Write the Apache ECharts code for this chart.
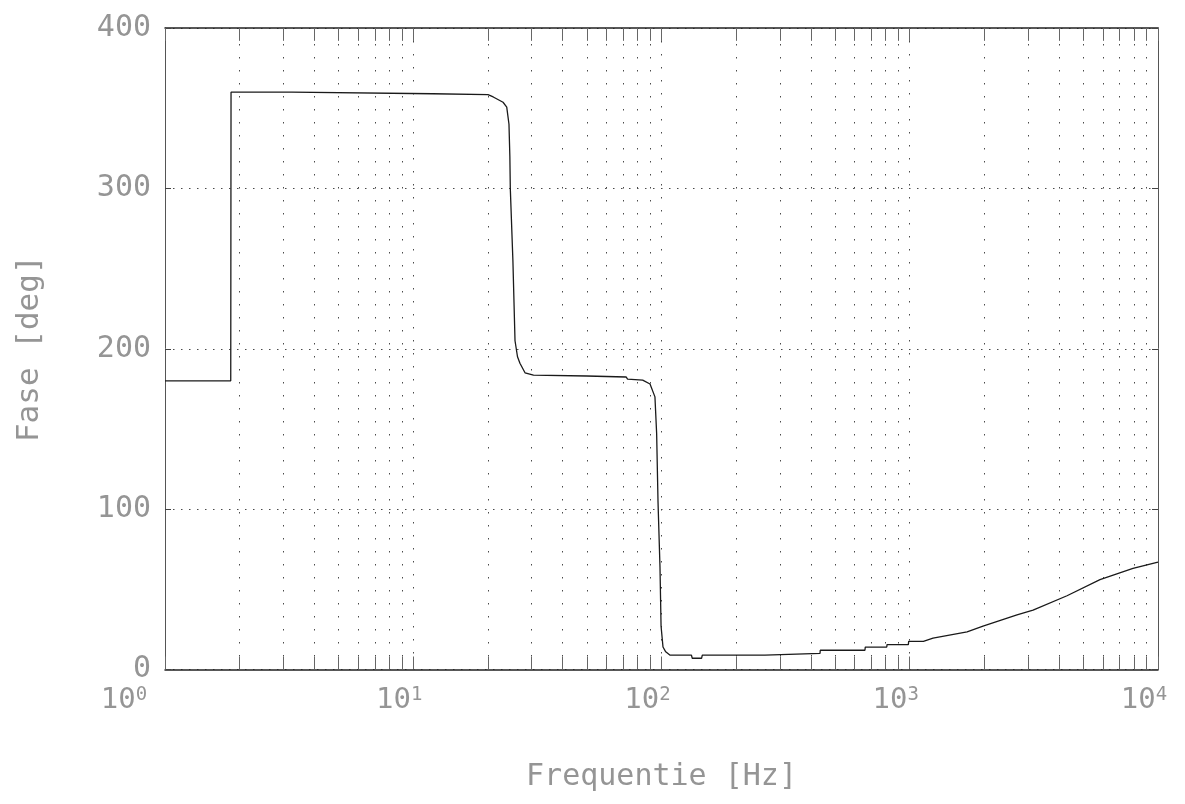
<!DOCTYPE html>
<html>
<head>
<meta charset="utf-8">
<script src="https://cdn.jsdelivr.net/npm/echarts@6/dist/echarts.min.js"></script>
<style>
  html, body { margin: 0; padding: 0; background: #ffffff; }
  #chart { width: 1185px; height: 804px; }
</style>
</head>
<body>
<div id="chart"></div>
<script>
// Phase response of the filter: frequency [Hz] and phase [deg]
const freqHz = [
  1, 1.84, 1.845, 3.24, 3.26, 12, 20.0, 21.0, 23.0, 23.8,
  24.3, 24.5, 24.6, 25.2, 25.7, 26.3, 26.9, 28.2, 30.5, 50,
  72, 73, 84, 89.9, 94.1, 95.6, 96.8, 98.6, 99.6, 101.4,
  104, 108, 132, 133, 145, 146, 261, 262, 435, 436,
  660, 662, 808, 810, 987, 990, 1135, 1241, 1702, 1973,
  2704, 3138, 4300, 5838, 7929, 10000
];
const phaseDeg = [
  180, 180, 360, 360, 359, 359, 358.5, 357, 353.7, 350.7,
  340, 320, 300, 255, 205, 195, 191, 185, 183.5, 183,
  182.4, 181, 180.4, 178, 170, 147, 105, 64, 27, 14,
  11, 9, 9, 7, 7, 9, 9, 10, 10, 12,
  12, 14, 14, 15.5, 15.5, 17.5, 17.5, 19.5, 23.5, 27,
  34, 37, 46, 56, 63, 67
];

// Axis ranges and grid positions
const freqMin = 1, freqMax = 10000;
const phaseMin = 0, phaseMax = 400, phaseStep = 100;
const minorFreqs = [
  2, 3, 4, 5, 6, 7, 8, 9,
  20, 30, 40, 50, 60, 70, 80, 90,
  200, 300, 400, 500, 600, 700, 800, 900,
  2000, 3000, 4000, 5000, 6000, 7000, 8000, 9000
];

const FONT = '"DejaVu Sans Mono", "Liberation Mono", monospace';
const TXT = '#959595';
const GRIDC = '#4a4a4a';
const tickLen = 8; // in phase units

const seriesData = freqHz.map((f, i) => [f, phaseDeg[i]]);

// Dotted vertical grid lines at the 2..9 positions of every decade,
// plus short inner tick marks on the bottom and top frame.
const markData = [];
minorFreqs.forEach(f => {
  markData.push({ xAxis: f, lineStyle: { type: [1.5, 11.5], color: GRIDC, width: 1 } });
});
minorFreqs.forEach(f => {
  markData.push([{ coord: [f, phaseMin], lineStyle: { type: 'solid', color: '#666', width: 1 } },
                 { coord: [f, phaseMin + tickLen] }]);
  markData.push([{ coord: [f, phaseMax], lineStyle: { type: 'solid', color: '#666', width: 1 } },
                 { coord: [f, phaseMax - tickLen] }]);
});

const chart = echarts.init(document.getElementById('chart'), null, { renderer: 'canvas' });

const xLabelRich = {
  b: { fontFamily: FONT, fontSize: 29, color: TXT },
  s: { fontFamily: FONT, fontSize: 19, color: TXT, verticalAlign: 'top', padding: [0, 28, 0, 0] },
  s0: { fontFamily: FONT, fontSize: 19, color: TXT, verticalAlign: 'top', padding: [0, 82, 0, 0] }
};

chart.setOption({
  animation: false,
  backgroundColor: '#ffffff',
  grid: { left: 165, right: 27, top: 28, bottom: 134.5, containLabel: false },
  xAxis: [
    {
      type: 'log', logBase: 10, min: freqMin, max: freqMax,
      position: 'bottom',
      name: 'Frequentie [Hz]', nameLocation: 'middle', nameGap: 93,
      nameTextStyle: { fontFamily: FONT, fontSize: 30, color: TXT },
      axisLine: { show: true, onZero: false, lineStyle: { color: '#222', width: 1.5 } },
      axisTick: { show: true, inside: true, length: 13, lineStyle: { color: '#666' } },
      axisLabel: {
        margin: 16,
        formatter: v => {
          const e = Math.round(Math.log10(v));
          return e === 0 ? '{b|10}{s0|' + e + '}' : '{b|10}{s|' + e + '}';
        },
        rich: xLabelRich
      },
      splitLine: { show: true, lineStyle: { type: [1.5, 11.5], color: GRIDC, width: 1 } },
      minorTick: { show: false }
    },
    {
      type: 'log', logBase: 10, min: freqMin, max: freqMax,
      position: 'top',
      axisLine: { show: true, onZero: false, lineStyle: { color: '#222', width: 1.5 } },
      axisTick: { show: true, inside: true, length: 13, lineStyle: { color: '#666' } },
      axisLabel: { show: false },
      splitLine: { show: false }
    }
  ],
  yAxis: [
    {
      type: 'value', min: phaseMin, max: phaseMax, interval: phaseStep,
      position: 'left',
      name: 'Fase [deg]', nameLocation: 'middle', nameGap: 120,
      nameTextStyle: { fontFamily: FONT, fontSize: 31, color: TXT },
      axisLine: { show: true, onZero: false, lineStyle: { color: '#555', width: 1 } },
      axisTick: { show: true, inside: true, length: 6, lineStyle: { color: '#444' } },
      axisLabel: { fontFamily: FONT, fontSize: 30, color: TXT, margin: 14 },
      splitLine: { show: true, lineStyle: { type: [1.5, 6.5], color: GRIDC, width: 1 } }
    },
    {
      type: 'value', min: phaseMin, max: phaseMax, interval: phaseStep,
      position: 'right',
      axisLine: { show: true, onZero: false, lineStyle: { color: '#555', width: 1 } },
      axisTick: { show: true, inside: true, length: 6, lineStyle: { color: '#444' } },
      axisLabel: { show: false },
      splitLine: { show: false }
    }
  ],
  series: [
    {
      type: 'line',
      xAxisIndex: 0, yAxisIndex: 0,
      data: seriesData,
      showSymbol: false,
      symbol: 'none',
      lineStyle: { color: '#1a1a1a', width: 1.3 },
      markLine: {
        silent: true,
        symbol: ['none', 'none'],
        label: { show: false },
        emphasis: { disabled: true },
        data: markData
      },
      z: 5
    }
  ]
});
</script>
</body>
</html>
